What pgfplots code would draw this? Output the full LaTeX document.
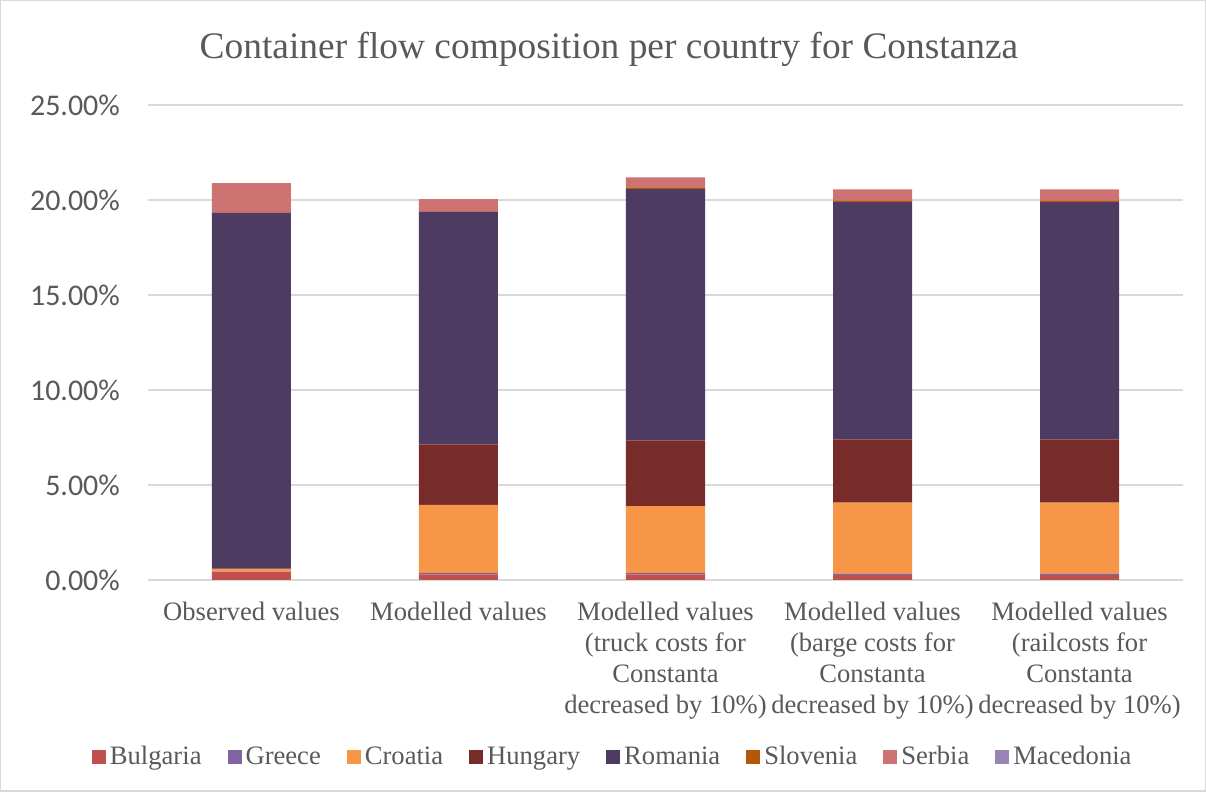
\documentclass[border=0pt]{standalone}
\usepackage{pgfplots}
\usepackage{pgfplotstable}
\pgfplotsset{compat=1.18}
\usepackage{fontspec}
\setmainfont{Liberation Serif}
\newfontfamily\calibri{Carlito}
\definecolor{cBul}{HTML}{C0504D}
\definecolor{cGre}{HTML}{8064A2}
\definecolor{cCro}{HTML}{F79646}
\definecolor{cHun}{HTML}{772C2A}
\definecolor{cRom}{HTML}{4D3B62}
\definecolor{cSlo}{HTML}{B65708}
\definecolor{cSer}{HTML}{CD7371}
\definecolor{cMac}{HTML}{9983B5}
\definecolor{txt}{HTML}{595959}
\definecolor{grid}{HTML}{D9D9D9}
\pgfplotstableread{
x Bul Gre Cro Hun Rom Slo Ser Mac
0 0.44 0.00 0.12 0.05 18.71 0.00 1.56 0.00
1 0.30 0.07 3.58 3.19 12.23 0.00 0.68 0.00
2 0.30 0.07 3.52 3.46 13.24 0.07 0.53 0.00
3 0.25 0.08 3.74 3.33 12.48 0.07 0.61 0.00
4 0.25 0.08 3.74 3.33 12.48 0.07 0.61 0.00
}\datatable
\begin{document}
\begin{tikzpicture}
\begin{axis}[
  scale only axis,
  width=517.5pt, height=237.5pt,
  ybar stacked,
  bar width=39.5pt,
  xmin=-0.5, xmax=4.5,
  ymin=0, ymax=25,
  ytick={0,5,10,15,20,25},
  xtick=data,
  xticklabels={Observed values,Modelled values,{Modelled values\\(truck costs for\\Constanta\\decreased by 10\%)},{Modelled values\\(barge costs for\\Constanta\\decreased by 10\%)},{Modelled values\\(railcosts for\\Constanta\\decreased by 10\%)}},
  xticklabel style={align=center, font=\fontsize{13.3}{15.5}\selectfont, text=txt, yshift=-7.5pt},
  yticklabel={\pgfmathprintnumber[fixed,fixed zerofill,precision=2]{\tick}\%},
  yticklabel style={font=\calibri\fontsize{15}{17}\selectfont, text=txt, xshift=-10.5pt},
  /pgf/number format/assume math mode=true,
  major tick length=0pt,
  axis x line*=bottom,
  axis y line*=left,
  y axis line style={draw=none},
  x axis line style={draw=grid, line width=0.75pt},
  ymajorgrids,
  grid style={draw=grid, line width=0.75pt},
  legend columns=8,
  legend style={at={(axis description cs:0.45,-0.3726)}, anchor=center, draw=none, fill=none,
    font=\fontsize{13.3}{15.5}\selectfont, text=txt,
    /tikz/every even column/.append style={column sep=11pt}},
  legend image code/.code={\fill[#1] (0pt,-3.5pt) rectangle (7pt,3.5pt);},
  clip=false,
]
\addplot[fill=cBul, draw=none] table[x=x,y=Bul]{\datatable};
\addplot[fill=cGre, draw=none] table[x=x,y=Gre]{\datatable};
\addplot[fill=cCro, draw=none] table[x=x,y=Cro]{\datatable};
\addplot[fill=cHun, draw=none] table[x=x,y=Hun]{\datatable};
\addplot[fill=cRom, draw=none] table[x=x,y=Rom]{\datatable};
\addplot[fill=cSlo, draw=none] table[x=x,y=Slo]{\datatable};
\addplot[fill=cSer, draw=none] table[x=x,y=Ser]{\datatable};
\addplot[fill=cMac, draw=none] table[x=x,y=Mac]{\datatable};
\legend{Bulgaria,Greece,Croatia,Hungary,Romania,Slovenia,Serbia,Macedonia}
\end{axis}
\draw[grid, line width=0.75pt] (-73.6pt,-105.6pt) rectangle (528.6pt,289.6pt);
\node[text=txt, font=\fontsize{18.7}{22}\selectfont] at (230.5pt,265.5pt) {Container flow composition per country for Constanza};
\end{tikzpicture}
\end{document}
